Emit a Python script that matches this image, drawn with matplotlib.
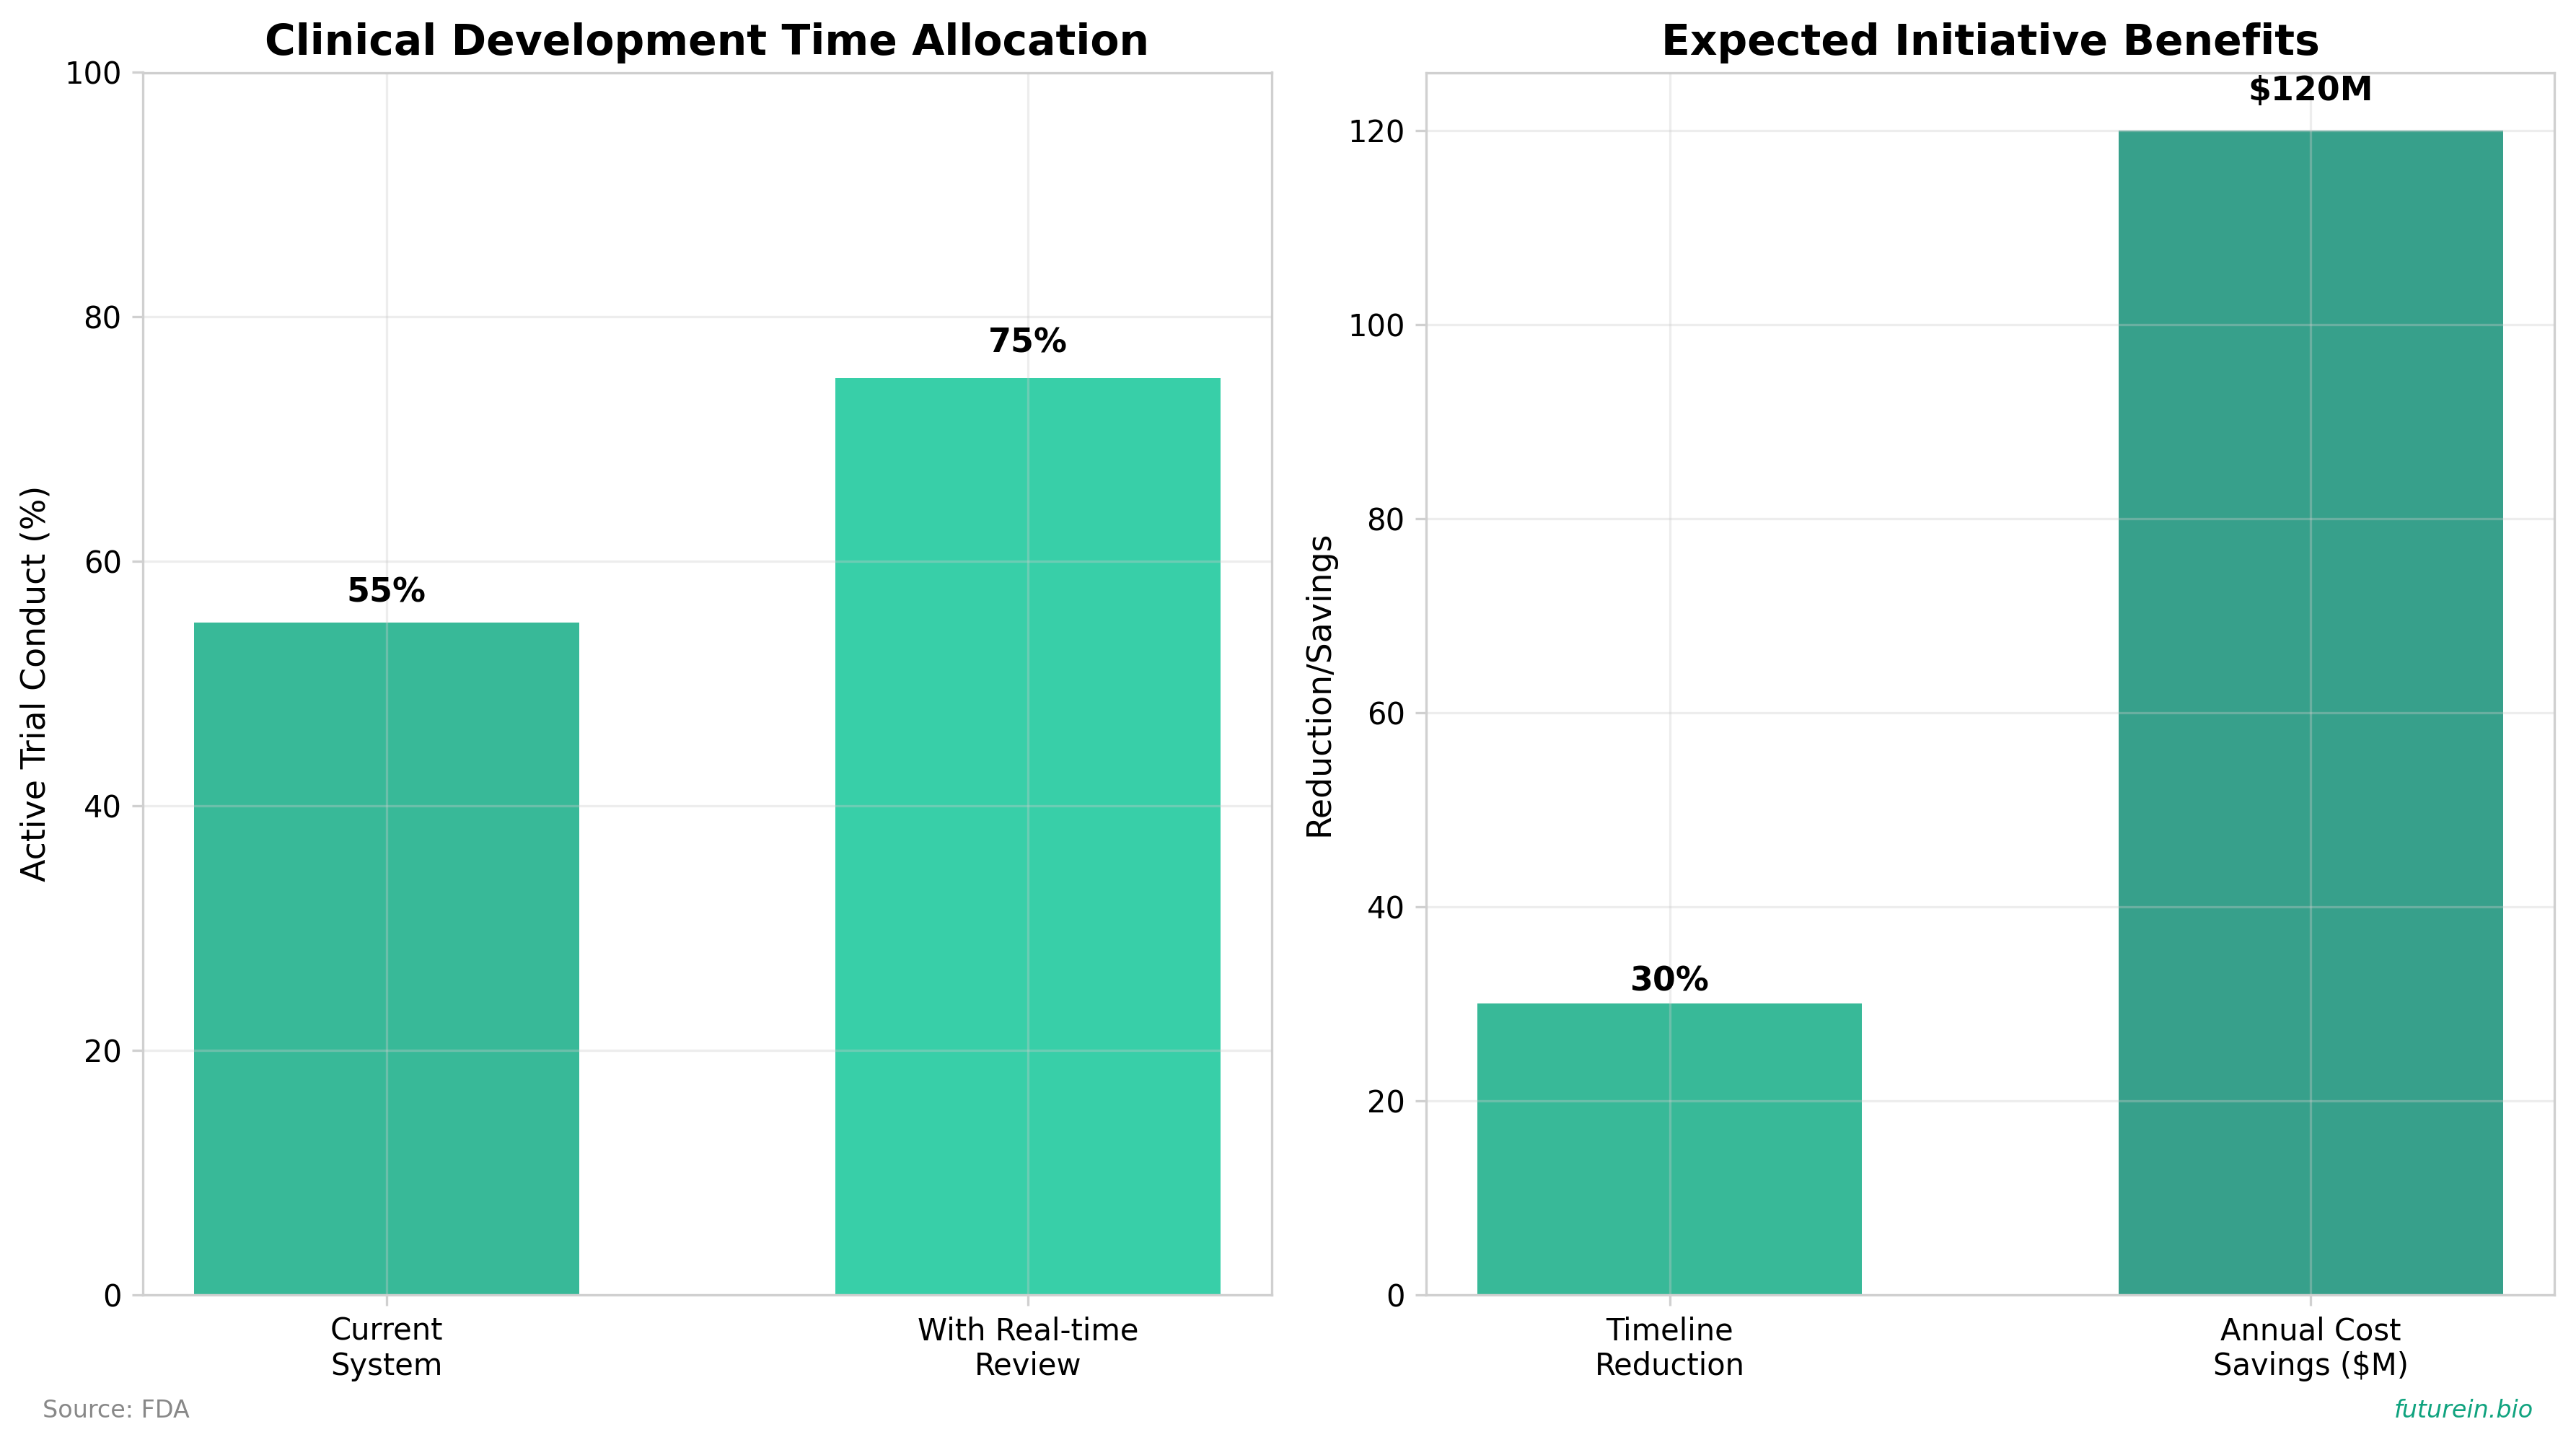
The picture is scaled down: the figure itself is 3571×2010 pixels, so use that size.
import matplotlib.pyplot as plt

# Data
alloc_labels = ["Current\nSystem", "With Real-time\nReview"]
alloc_values = [55, 75]
alloc_text = ["55%", "75%"]
alloc_colors = ["#38b998", "#38cfa8"]

benefit_labels = ["Timeline\nReduction", "Annual Cost\nSavings ($M)"]
benefit_values = [30, 120]
benefit_text = ["30%", "$120M"]
benefit_colors = ["#38b998", "#37a08b"]

fig = plt.figure(figsize=(3571 / 300, 2010 / 300), dpi=300)
ax1 = fig.add_axes([0.0554, 0.107, 0.4383, 0.843])
ax2 = fig.add_axes([0.5536, 0.107, 0.4380, 0.843])


def style_axis(ax):
    for s in ax.spines.values():
        s.set_color("#d0d0d0")
        s.set_linewidth(0.8)
    ax.tick_params(colors="#d0d0d0", labelcolor="black", labelsize=10)
    ax.grid(True, color="#cccccc", alpha=0.35, linewidth=0.8)
    ax.set_axisbelow(False)


# Left panel: time allocation
x1 = range(len(alloc_labels))
ax1.bar(x1, alloc_values, width=0.6, color=alloc_colors)
for i in x1:
    ax1.text(i, alloc_values[i] * 1.02, alloc_text[i], ha="center", va="bottom",
             fontsize=11, fontweight="bold")
ax1.set_xticks(list(x1))
ax1.set_xticklabels(alloc_labels)
ax1.set_ylim(0, 100)
ax1.set_ylabel("Active Trial Conduct (%)", fontsize=11)
ax1.set_title("Clinical Development Time Allocation", fontsize=14, fontweight="bold")
style_axis(ax1)

# Right panel: benefits
x2 = range(len(benefit_labels))
ax2.bar(x2, benefit_values, width=0.6, color=benefit_colors)
for i in x2:
    ax2.text(i, benefit_values[i] * 1.02, benefit_text[i], ha="center", va="bottom",
             fontsize=11, fontweight="bold")
ax2.set_xticks(list(x2))
ax2.set_xticklabels(benefit_labels)
ax2.set_ylabel("Reduction/Savings", fontsize=11)
ax2.set_title("Expected Initiative Benefits", fontsize=14, fontweight="bold")
style_axis(ax2)

# Footer
fig.text(0.0165, 0.019, "Source: FDA", fontsize=8, color="#888888", ha="left", va="bottom")
fig.text(0.9835, 0.019, "futurein.bio", fontsize=8, color="#10a37f", style="italic",
         ha="right", va="bottom")

fig.savefig("out.png", dpi=300)
